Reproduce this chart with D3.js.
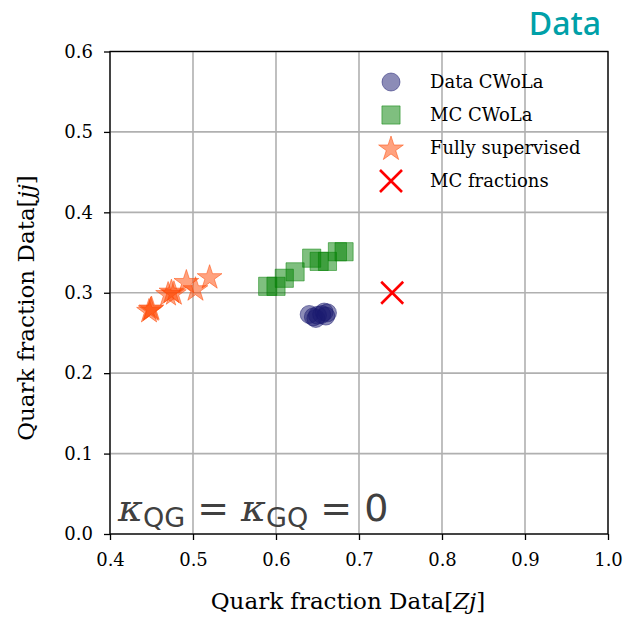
<!DOCTYPE html>
<html lang="en">
<head>
  <meta charset="UTF-8">
  <title>Quark fractions</title>
  <script src="https://cdn.jsdelivr.net/npm/d3@7"></script>
  <style>
    body { margin: 0; background: #fff; }
  </style>
</head>
<body>
  <div id="container"></div>
  <script>
    // data
    const dataCwola = [
      [0.640, 0.273], [0.645, 0.270], [0.650, 0.272], [0.648, 0.268],
      [0.655, 0.273], [0.658, 0.276], [0.662, 0.275], [0.660, 0.271]
    ];
    const mcCwola = [
      [0.590, 0.308], [0.600, 0.308], [0.610, 0.318], [0.623, 0.326],
      [0.643, 0.343], [0.652, 0.339], [0.662, 0.339], [0.674, 0.351], [0.682, 0.351]
    ];
    const fullySupervised = [
      [0.447, 0.278], [0.450, 0.281], [0.449, 0.280],
      [0.470, 0.299], [0.474, 0.302], [0.477, 0.300],
      [0.492, 0.314], [0.503, 0.305], [0.520, 0.320]
    ];
    const mcFractions = [[0.74, 0.30]];
    const xTicks = [0.4, 0.5, 0.6, 0.7, 0.8, 0.9, 1.0];
    const yTicks = [0.0, 0.1, 0.2, 0.3, 0.4, 0.5, 0.6];
    const legendLabels = ["Data CWoLa", "MC CWoLa", "Fully supervised", "MC fractions"];

    const width = 625;
    const height = 618;
    const marginTop = 51.5;
    const marginRight = 17;
    const marginBottom = 84;
    const marginLeft = 110;
    const serif = "'DejaVu Serif', serif";

    const x = d3.scaleLinear().domain([0.4, 1.0]).range([marginLeft, width - marginRight]);
    const y = d3.scaleLinear().domain([0, 0.6]).range([height - marginBottom, marginTop]);

    const svg = d3.select("#container")
      .append("svg")
      .attr("width", width)
      .attr("height", height)
      .attr("viewBox", [0, 0, width, height]);

    // grid
    svg.append("g")
      .attr("stroke", "#b0b0b0")
      .attr("stroke-width", 1.6)
      .call(g => g.selectAll("line.vx").data(xTicks).join("line")
        .attr("x1", d => x(d)).attr("x2", d => x(d))
        .attr("y1", y(0)).attr("y2", y(0.6)))
      .call(g => g.selectAll("line.hy").data(yTicks).join("line")
        .attr("class", "hy")
        .attr("x1", x(0.4)).attr("x2", x(1.0))
        .attr("y1", d => y(d)).attr("y2", d => y(d)));

    // axes
    const xAxis = svg.append("g")
      .attr("transform", `translate(0,${y(0)})`)
      .call(d3.axisBottom(x).tickValues(xTicks).tickFormat(d3.format(".1f")).tickSize(6).tickPadding(13));
    const yAxis = svg.append("g")
      .attr("transform", `translate(${x(0.4)},0)`)
      .call(d3.axisLeft(y).tickValues(yTicks).tickFormat(d3.format(".1f")).tickSize(6).tickPadding(11));
    [xAxis, yAxis].forEach(a => {
      a.attr("font-family", serif).attr("font-size", 18);
      a.select(".domain").remove();
      a.selectAll("line").attr("stroke", "#000").attr("stroke-width", 1.3);
      a.selectAll("text").attr("fill", "#000");
    });

    // frame
    svg.append("rect")
      .attr("x", x(0.4)).attr("y", y(0.6))
      .attr("width", x(1.0) - x(0.4)).attr("height", y(0) - y(0.6))
      .attr("fill", "none").attr("stroke", "#000").attr("stroke-width", 1.3);

    const star = d3.symbol().type(d3.symbolStar).size(190);
    const square = d3.symbol().type(d3.symbolSquare).size(330);

    // points
    svg.append("g").selectAll("circle").data(dataCwola).join("circle")
      .attr("cx", d => x(d[0])).attr("cy", d => y(d[1])).attr("r", 9)
      .attr("fill", "#191970").attr("fill-opacity", 0.5)
      .attr("stroke", "#191970").attr("stroke-opacity", 0.5);

    svg.append("g").selectAll("path").data(mcCwola).join("path")
      .attr("d", square)
      .attr("transform", d => `translate(${x(d[0])},${y(d[1])})`)
      .attr("fill", "#008000").attr("fill-opacity", 0.5)
      .attr("stroke", "#008000").attr("stroke-opacity", 0.5);

    svg.append("g").selectAll("path").data(fullySupervised).join("path")
      .attr("d", star)
      .attr("transform", d => `translate(${x(d[0])},${y(d[1]) + 1})`)
      .attr("fill", "#ff4500").attr("fill-opacity", 0.5)
      .attr("stroke", "#ff4500").attr("stroke-opacity", 0.5);

    const cross = (g, cx, cy, s) => g.append("path")
      .attr("d", `M${cx - s},${cy - s}L${cx + s},${cy + s}M${cx - s},${cy + s}L${cx + s},${cy - s}`)
      .attr("stroke", "#ff0000").attr("stroke-width", 2.6).attr("fill", "none");
    const crossG = svg.append("g");
    mcFractions.forEach(d => cross(crossG, x(d[0]), y(d[1]), 11));

    // legend
    const legend = svg.append("g");
    const lx = 391, ly0 = 82, dy = 33;
    legend.append("circle").attr("cx", lx).attr("cy", ly0).attr("r", 9)
      .attr("fill", "#191970").attr("fill-opacity", 0.5)
      .attr("stroke", "#191970").attr("stroke-opacity", 0.5);
    legend.append("path").attr("d", square).attr("transform", `translate(${lx},${ly0 + dy})`)
      .attr("fill", "#008000").attr("fill-opacity", 0.5)
      .attr("stroke", "#008000").attr("stroke-opacity", 0.5);
    legend.append("path").attr("d", star).attr("transform", `translate(${lx},${ly0 + 2 * dy + 1})`)
      .attr("fill", "#ff4500").attr("fill-opacity", 0.5)
      .attr("stroke", "#ff4500").attr("stroke-opacity", 0.5);
    cross(legend, lx, ly0 + 3 * dy, 11);
    legend.selectAll("text").data(legendLabels).join("text")
      .attr("x", 430).attr("y", (d, i) => ly0 + i * dy + 6)
      .attr("font-family", serif).attr("font-size", 18)
      .text(d => d);

    // axis labels
    const xl = svg.append("text")
      .attr("x", 348).attr("y", 609)
      .attr("text-anchor", "middle")
      .attr("font-family", serif).attr("font-size", 23);
    xl.append("tspan").text("Quark fraction Data[");
    xl.append("tspan").attr("font-style", "italic").text("Zj");
    xl.append("tspan").text("]");

    const yl = svg.append("text")
      .attr("transform", `translate(34,308) rotate(-90)`)
      .attr("text-anchor", "middle")
      .attr("font-family", serif).attr("font-size", 23);
    yl.append("tspan").text("Quark fraction Data[");
    yl.append("tspan").attr("font-style", "italic").text("jj");
    yl.append("tspan").text("]");

    // kappa annotation
    const k = svg.append("text")
      .attr("x", 118).attr("y", 521)
      .attr("font-family", "'DejaVu Sans', sans-serif").attr("font-size", 38)
      .attr("fill", "#404040");
    k.append("tspan").attr("font-family", "'DejaVu Serif', serif").attr("font-style", "italic").text("κ");
    k.append("tspan").attr("font-size", 27).attr("dy", 6).text("QG");
    k.append("tspan").attr("dy", -6).text(" = ");
    k.append("tspan").attr("font-family", "'DejaVu Serif', serif").attr("font-style", "italic").text("κ");
    k.append("tspan").attr("font-size", 27).attr("dy", 6).text("GQ");
    k.append("tspan").attr("dy", -6).text(" = 0");

    // corner tag
    svg.append("text")
      .attr("x", 601).attr("y", 35)
      .attr("text-anchor", "end")
      .attr("font-family", "'Noto Sans', sans-serif").attr("font-weight", 500)
      .attr("font-size", 32).attr("fill", "#00a0a8")
      .text("Data");
  </script>
</body>
</html>
